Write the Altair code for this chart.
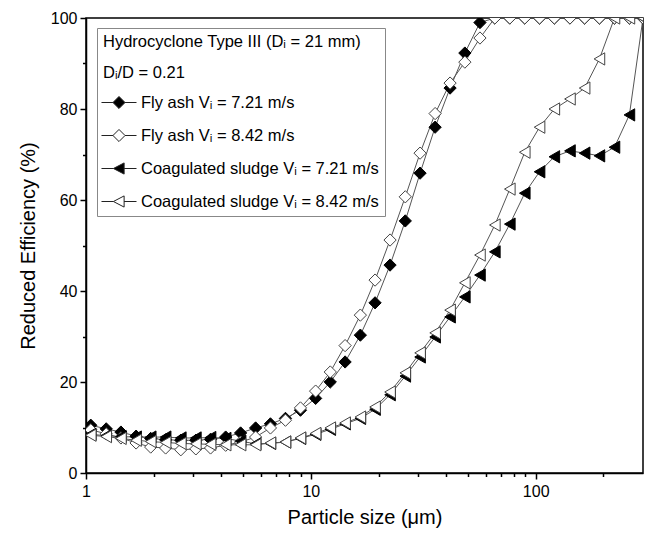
import altair as alt
import pandas as pd

# ---- data ----
particle_size = [1.05, 1.23, 1.43, 1.67, 1.94, 2.26, 2.64, 3.08, 3.58, 4.18,
                 4.87, 5.68, 6.61, 7.71, 8.99, 10.5, 12.2, 14.2, 16.6, 19.3,
                 22.5, 26.3, 30.6, 35.7, 41.6, 48.4, 56.5, 65.8, 76.7, 89.4,
                 104, 121, 142, 165, 192, 224, 261, 300]

fly_ash_721 = [10.5, 9.7, 9.0, 8.1, 7.6, 7.3, 7.2, 7.2, 7.4, 7.9,
               8.8, 9.9, 10.8, 12.0, 13.8, 16.4, 20.0, 24.4, 30.3, 37.4,
               45.7, 55.4, 65.9, 76.0, 84.6, 92.3, 99.0, 100, 100, 100,
               100, 100, 100, 100, 100, 100, 100, 100]

fly_ash_842 = [9.5, 8.6, 7.7, 6.6, 5.7, 5.5, 5.1, 5.3, 5.5, 6.1,
               6.8, 7.9, 9.9, 11.6, 14.3, 18.0, 22.2, 28.0, 34.7, 42.4,
               51.2, 60.7, 70.3, 79.0, 85.7, 90.3, 95.6, 100, 100, 100,
               100, 100, 100, 100, 100, 100, 100, 100]

sludge_721 = [8.5, 8.2, 8.0, 7.9, 7.9, 7.9, 7.7, 7.7, 7.8, 7.6,
              7.0, 6.4, 6.5, 6.8, 7.6, 8.5, 9.6, 10.8, 12.0, 14.0,
              17.2, 21.3, 25.5, 29.9, 34.3, 38.7, 43.5, 48.6, 54.7, 61.5,
              66.2, 69.5, 70.8, 70.3, 69.7, 71.6, 78.7, 100]

sludge_842 = [8.3, 8.0, 7.6, 7.2, 6.9, 6.7, 6.5, 6.4, 6.3, 6.2,
              6.2, 6.2, 6.6, 6.8, 7.7, 8.7, 9.9, 11.0, 12.3, 14.5,
              17.8, 22.0, 26.4, 30.8, 35.8, 41.8, 47.9, 54.5, 62.4, 70.5,
              76.0, 80.0, 82.2, 84.6, 91.0, 100, 100, 100]

series_names = ["Fly ash V\u1d62 = 7.21 m/s",
                "Fly ash V\u1d62 = 8.42 m/s",
                "Coagulated sludge V\u1d62 = 7.21 m/s",
                "Coagulated sludge V\u1d62 = 8.42 m/s"]

x_major = [1, 10, 100]
x_minor = [2, 3, 4, 5, 6, 7, 8, 9, 20, 30, 40, 50, 60, 70, 80, 90, 200]
y_major = [0, 20, 40, 60, 80, 100]
y_minor = [10, 30, 50, 70, 90]

legend_title = ["Hydrocyclone Type III (D\u1d62 = 21 mm)", "D\u1d62/D = 0.21"]

# ---- build table ----
rows = []
for name, vals in zip(series_names, [fly_ash_721, fly_ash_842, sludge_721, sludge_842]):
    for xv, yv in zip(particle_size, vals):
        rows.append({"size": xv, "eff": yv, "series": name})
df = pd.DataFrame(rows)

FONT = "Liberation Sans"


def xscale():
    return alt.Scale(type="log", domain=[1, 300], nice=False)


def yscale():
    return alt.Scale(domain=[0, 100], nice=False, zero=False)


shape_plot = ["diamond", "diamond", "triangle-left", "triangle-left"]
fills = ["black", "white", "black", "white"]
strokes = ["black", "#444444", "black", "#444444"]

dia = "M-1.13,0L-0.39,0M0.39,0L1.13,0M0,-0.39L0.39,0L0,0.39L-0.39,0Z"
tri = "M-1.13,0L-0.36,0M0.33,0L1.13,0M-0.36,0L0.33,-0.36L0.33,0.36Z"
shape_legend = [dia, dia, tri, tri]

base = alt.Chart(df)

lines = base.mark_line(color="#555555", strokeWidth=1, clip=True).encode(
    x=alt.X("size:Q", scale=xscale(),
            axis=alt.Axis(values=x_major, format="d", title="Particle size (\u03bcm)",
                          orient="bottom", tickSize=6, tickWidth=1.5, tickColor="black",
                          domainColor="black", domainWidth=1.5, labelFontSize=16,
                          labelFont=FONT, labelColor="black", labelPadding=4,
                          labelFlush=False,
                          titleFont=FONT, titleFontSize=20, titleFontWeight="normal",
                          titleColor="black", titlePadding=8, grid=False)),
    y=alt.Y("eff:Q", scale=yscale(),
            axis=alt.Axis(values=y_major, title="Reduced Efficiency (%)", orient="left",
                          tickSize=6, tickWidth=1.5, tickColor="black",
                          domainColor="black", domainWidth=1.5, labelFontSize=16,
                          labelFont=FONT, labelColor="black", labelPadding=3,
                          labelFlush=False,
                          titleFont=FONT, titleFontSize=20, titleFontWeight="normal",
                          titleColor="black", titlePadding=12, grid=False)),
    detail="series:N",
)

minor = base.transform_filter("datum.size < 0").mark_point(opacity=0).encode(
    x=alt.X("size:Q", scale=xscale(),
            axis=alt.Axis(values=x_minor, labels=False, title=None, orient="bottom",
                          tickSize=3.5, tickWidth=1.5, tickColor="black", domain=False,
                          grid=False)),
    y=alt.Y("eff:Q", scale=yscale(),
            axis=alt.Axis(values=y_minor, labels=False, title=None, orient="left",
                          tickSize=3.5, tickWidth=1.5, tickColor="black", domain=False,
                          grid=False)),
)

points = base.mark_point(filled=True, size=150, strokeWidth=1, opacity=1, clip=True).encode(
    x=alt.X("size:Q", scale=xscale(), axis=None),
    y=alt.Y("eff:Q", scale=yscale(), axis=None),
    shape=alt.Shape("series:N", scale=alt.Scale(domain=series_names, range=shape_plot), legend=None),
    fill=alt.Fill("series:N", scale=alt.Scale(domain=series_names, range=fills), legend=None),
    stroke=alt.Stroke("series:N", scale=alt.Scale(domain=series_names, range=strokes), legend=None),
)

leg = dict(orient="none", legendX=11, legendY=10, title=legend_title)

legend_layer = base.transform_filter("datum.size < 0").mark_point(
    filled=True, strokeWidth=1, opacity=1
).encode(
    x=alt.X("size:Q", scale=xscale(), axis=None),
    y=alt.Y("eff:Q", scale=yscale(), axis=None),
    shape=alt.Shape("series:N", scale=alt.Scale(domain=series_names, range=shape_legend),
                    legend=alt.Legend(
                        **leg,
                        titleFont=FONT, titleFontSize=16.5, titleFontWeight="normal",
                        titleColor="black", titleLineHeight=31, titlePadding=5, titleLimit=500,
                        labelFont=FONT, labelFontSize=16.5, labelColor="black",
                        labelOffset=6, symbolSize=961, symbolStrokeWidth=1,
                        symbolOpacity=1, rowPadding=8, padding=6,
                        strokeColor="#888888", fillColor="white", labelLimit=400)),
    fill=alt.Fill("series:N", scale=alt.Scale(domain=series_names, range=fills),
                  legend=alt.Legend(**leg)),
    stroke=alt.Stroke("series:N", scale=alt.Scale(domain=series_names, range=["#222222"] * 4),
                      legend=alt.Legend(**leg)),
)

chart = alt.layer(lines, minor, points, legend_layer).resolve_scale(
    x="independent", y="independent",
    shape="independent", fill="independent", stroke="independent"
).resolve_axis(x="independent", y="independent").properties(
    width=557, height=455,
    padding={"left": 86, "top": 18, "right": 6, "bottom": 63},
    autosize=alt.AutoSizeParams(type="none"),
    background="white",
).configure_view(stroke="black", strokeWidth=1.5)

chart.save("out.html", embed_options={"renderer": "svg", "actions": False})
